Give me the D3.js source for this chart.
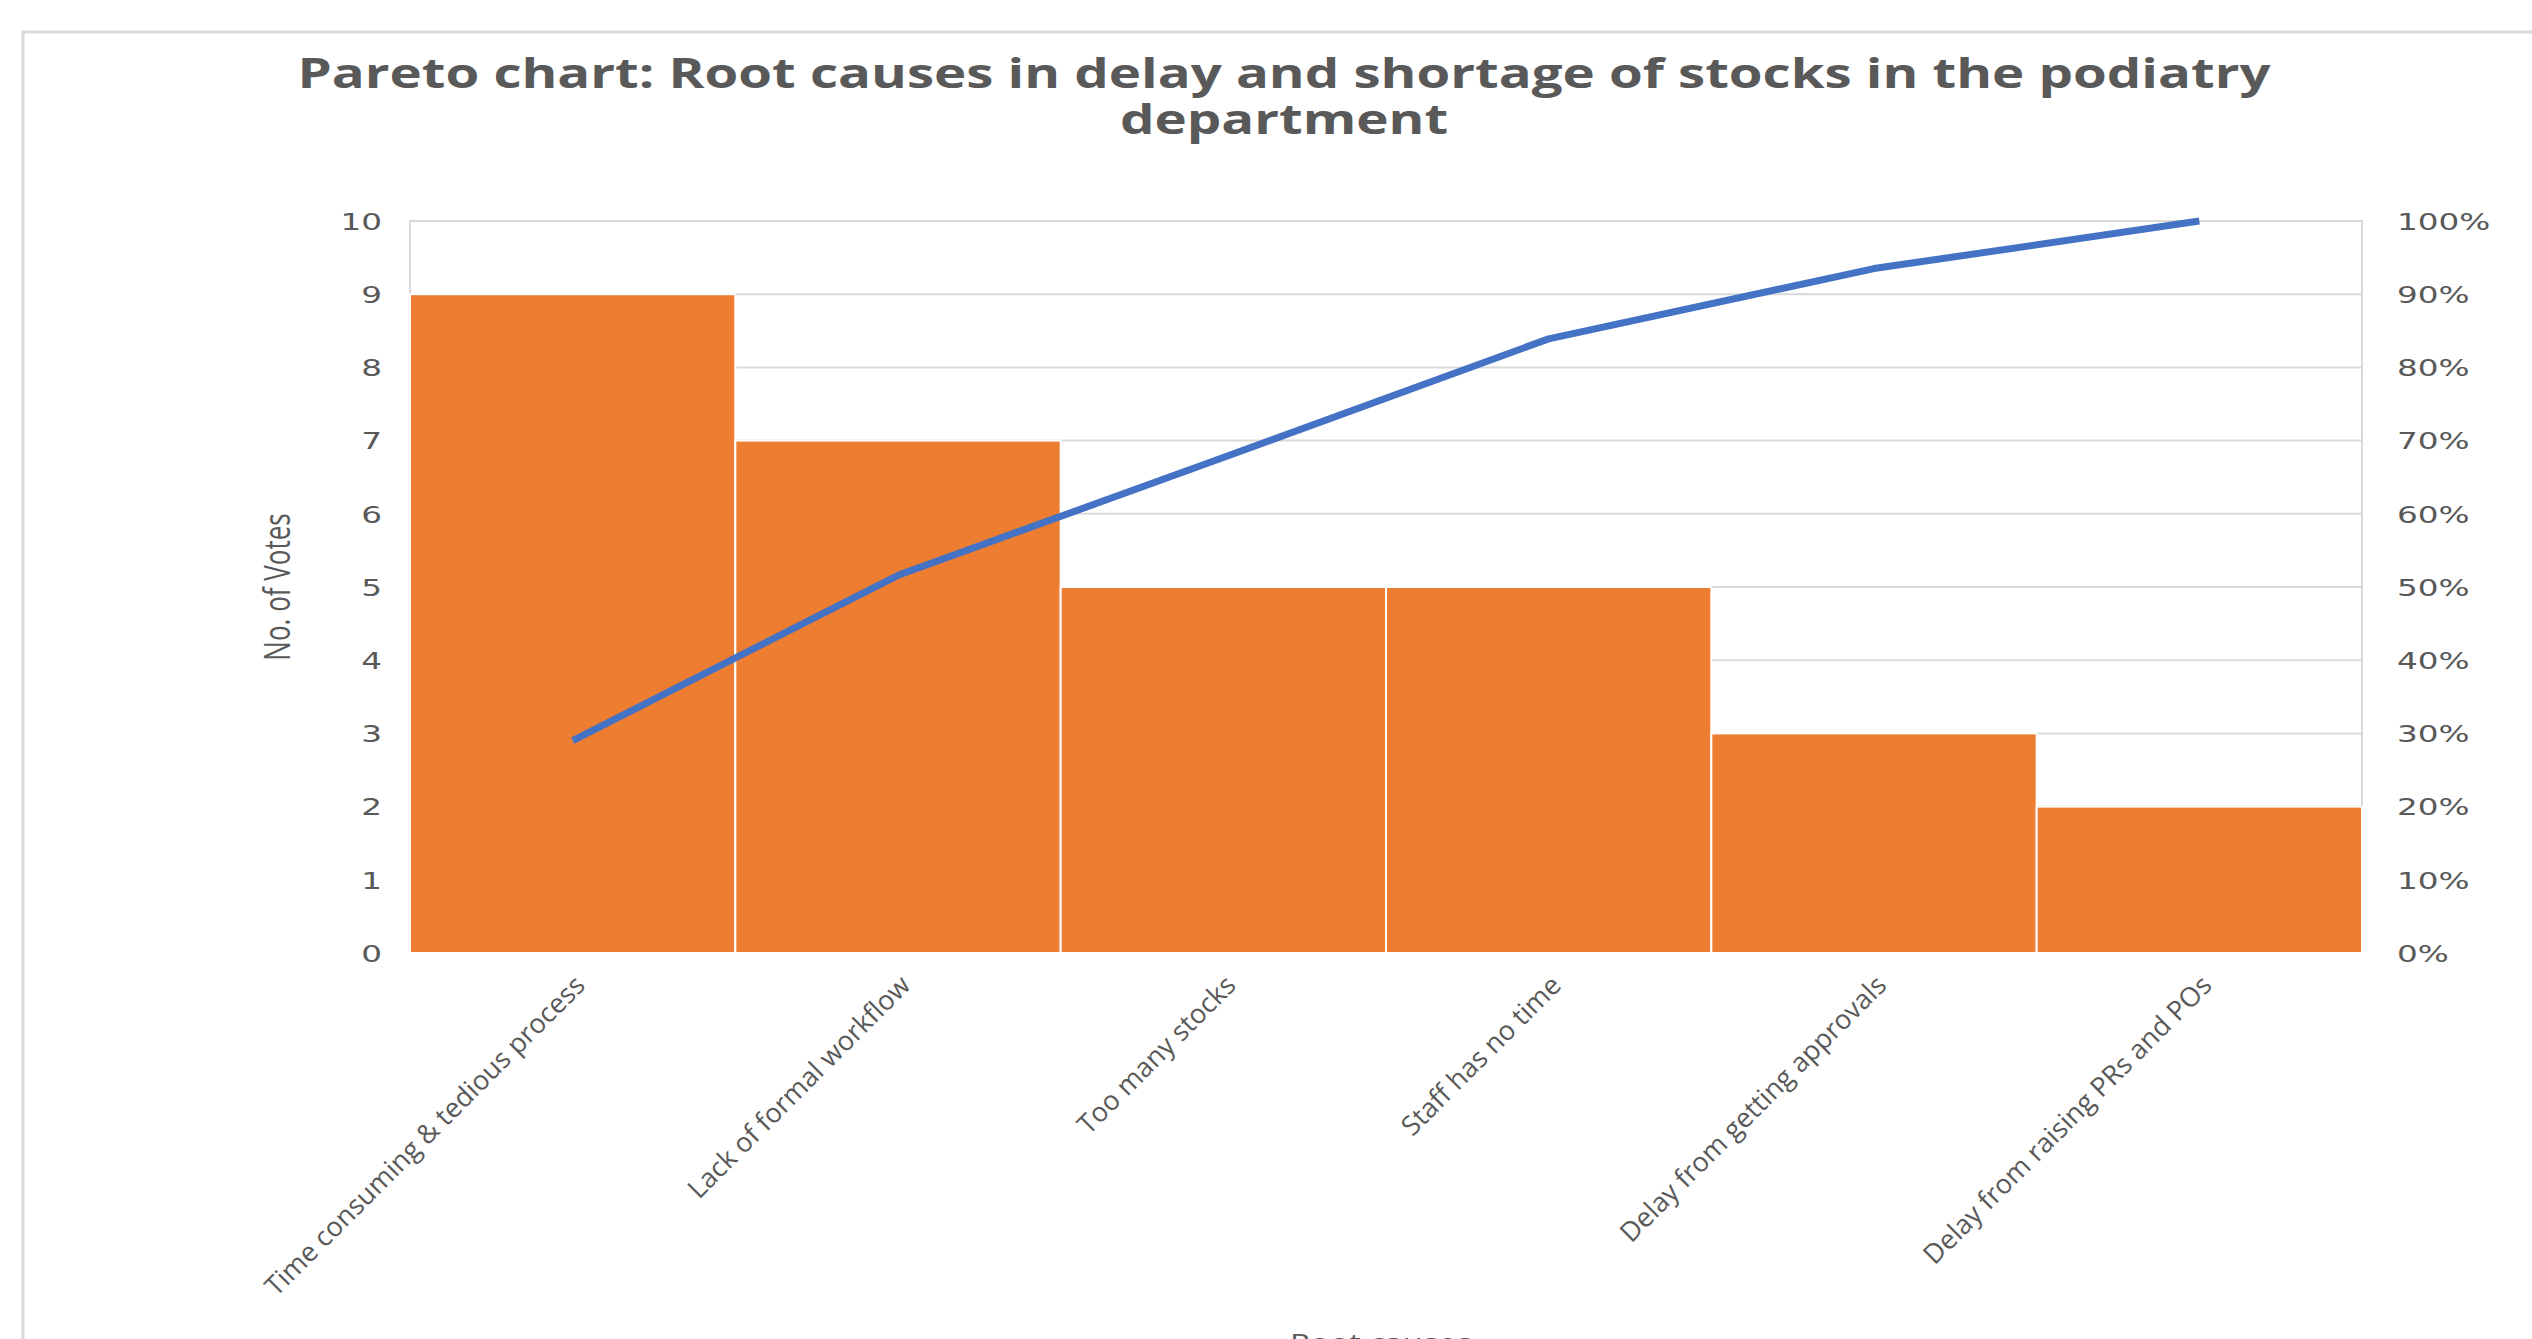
<!DOCTYPE html>
<html>
<head>
<meta charset="utf-8">
<script src="https://cdn.jsdelivr.net/npm/d3@7"></script>
<style>
  body { margin: 0; background: #fff; }
  svg { display: block; }
</style>
</head>
<body>
<svg id="chart" width="2532" height="1339"></svg>
<script>
// chart data
const categories = [
    "Time consuming & tedious process",
    "Lack of formal workflow",
    "Too many stocks",
    "Staff has no time",
    "Delay from getting approvals",
    "Delay from raising PRs and POs"
];
const votes = [9, 7, 5, 5, 3, 2];
const cumulativePct = [29.0, 51.6, 67.7, 83.9, 93.5, 100];
const leftTicks = [0, 1, 2, 3, 4, 5, 6, 7, 8, 9, 10];
const rightTicks = [0, 10, 20, 30, 40, 50, 60, 70, 80, 90, 100];

const svg = d3.select("#chart");
const textColor = "#595959";
const gridColor = "#d9d9d9";

// plot area
const plotLeft = 410, plotRight = 2362, plotTop = 221, plotBottom = 953;

const x = d3.scaleBand().domain(categories).range([plotLeft, plotRight]).padding(0);
const yL = d3.scaleLinear().domain([0, 10]).range([plotBottom, plotTop]);
const yR = d3.scaleLinear().domain([0, 100]).range([plotBottom, plotTop]);

// outer chart frame
svg.append("rect")
    .attr("x", 23).attr("y", 32)
    .attr("width", 2700).attr("height", 1500)
    .attr("fill", "none").attr("stroke", gridColor).attr("stroke-width", 3);

// title
const title = svg.append("g").attr("fill", textColor)
    .style("font-family", "'Open Sans', sans-serif").style("font-weight", 700).style("font-size", "42px");
title.append("text").attr("text-anchor", "middle")
    .attr("transform", "translate(1284,88) scale(1.3,1)")
    .text("Pareto chart: Root causes in delay and shortage of stocks in the podiatry");
title.append("text").attr("text-anchor", "middle")
    .attr("transform", "translate(1284,134) scale(1.3,1)")
    .text("department");

// gridlines
svg.append("g").selectAll("line").data(leftTicks).enter().append("line")
    .attr("x1", plotLeft).attr("x2", plotRight)
    .attr("y1", d => yL(d)).attr("y2", d => yL(d))
    .attr("stroke", gridColor).attr("stroke-width", 2);

// plot border
svg.append("rect")
    .attr("x", plotLeft).attr("y", plotTop)
    .attr("width", plotRight - plotLeft).attr("height", plotBottom - plotTop)
    .attr("fill", "none").attr("stroke", gridColor).attr("stroke-width", 2);

// bars
svg.append("g").selectAll("rect").data(categories).enter().append("rect")
    .attr("x", d => x(d))
    .attr("y", (d, i) => yL(votes[i]))
    .attr("width", x.bandwidth())
    .attr("height", (d, i) => yL(0) - yL(votes[i]))
    .attr("fill", "#ED7D31")
    .attr("stroke", "#fff").attr("stroke-width", 2);

// cumulative line
const line = d3.line()
    .x((d, i) => x(categories[i]) + x.bandwidth() / 2)
    .y(d => yR(d));
svg.append("path").datum(cumulativePct)
    .attr("d", line)
    .attr("fill", "none").attr("stroke", "#4472C4")
    .attr("stroke-width", 7).attr("stroke-linejoin", "round");

// left axis
const axL = svg.append("g").attr("transform", `translate(${plotLeft},0)`)
    .call(d3.axisLeft(yL).tickValues(leftTicks).tickSize(0).tickFormat(d3.format("d")));
axL.select(".domain").remove();
axL.selectAll("text")
    .attr("x", null).attr("dy", "0.36em")
    .attr("transform", "translate(-28,0) scale(1.42,1)")
    .attr("fill", textColor)
    .style("font-family", "'DejaVu Sans', sans-serif").style("font-size", "23px");

// right axis
const axR = svg.append("g").attr("transform", `translate(${plotRight},0)`)
    .call(d3.axisRight(yR).tickValues(rightTicks).tickSize(0).tickFormat(d => d + "%"));
axR.select(".domain").remove();
axR.selectAll("text")
    .attr("x", null).attr("dy", "0.36em")
    .attr("transform", "translate(35,0) scale(1.42,1)")
    .attr("fill", textColor)
    .style("font-family", "'DejaVu Sans', sans-serif").style("font-size", "23px");

// category labels
svg.append("g").selectAll("text").data(categories).enter().append("text")
    .attr("text-anchor", "end")
    .attr("transform", d => `translate(${x(d) + x.bandwidth() / 2 + 14},${plotBottom + 34}) rotate(-45)`)
    .attr("fill", textColor)
    .style("font-family", "'Open Sans', sans-serif").style("font-size", "27px")
    .text(d => d);

// axis titles
svg.append("text").attr("text-anchor", "middle")
    .attr("transform", `translate(290,${(plotTop + plotBottom) / 2}) scale(1.4,1) rotate(-90)`)
    .attr("fill", textColor)
    .style("font-family", "'Open Sans', sans-serif").style("font-size", "26px")
    .text("No. of Votes");

// x axis title sits at the bottom edge, cut off as in the source image
svg.append("text").attr("text-anchor", "middle")
    .attr("transform", "translate(1381,1352) scale(1.25,1)")
    .attr("fill", textColor)
    .style("font-family", "'Open Sans', sans-serif").style("font-size", "26px")
    .text("Root causes");
</script>
</body>
</html>
